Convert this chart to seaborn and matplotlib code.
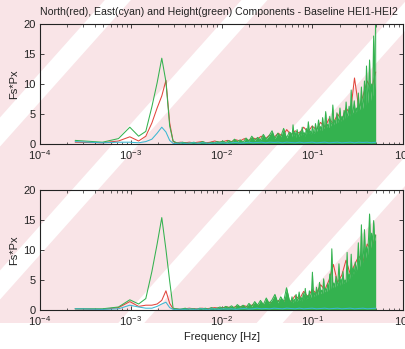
import numpy as np
import pandas as pd
import matplotlib
matplotlib.use("Agg")
import matplotlib.pyplot as plt
import seaborn as sns
from matplotlib.patches import Polygon, Rectangle
from matplotlib.ticker import FixedLocator, LogLocator, NullFormatter, FixedFormatter

# ---------------- data ----------------
title = "North(red), East(cyan) and Height(green) Components - Baseline HEI1-HEI2"
x_label = "Frequency [Hz]"
y_label = "Fs*Px"
x_ticks = [1e-4, 1e-3, 1e-2, 1e-1, 1e0]
x_tick_labels = [r"$10^{-4}$", r"$10^{-3}$", r"$10^{-2}$", r"$10^{-1}$", r"$10^{0}$"]
y_ticks = [0, 5, 10, 15, 20]

nfft = 4096  # samples (fs = 1 Hz)
low_bins = [1, 2, 3, 4, 5, 6, 7, 8, 9, 10, 11, 12]

# ---- top panel ----
top_north_low = [0.3, 0.2, 0.5, 1.2, 0.5, 1.3, 3.5, 6.0, 8.0, 10.6, 3.5, 0.4]
top_east_low = [0.4, 0.2, 0.3, 0.3, 0.2, 0.4, 0.8, 1.8, 2.8, 2.0, 0.6, 0.1]
top_height_low = [0.6, 0.3, 0.9, 2.8, 1.3, 2.1, 6.2, 10.2, 14.3, 10.4, 3.0, 0.5]

top_height_mid = [0.2, 0.1, 0.3, 0.2, 0.1, 0.2, 0.3, 0.1, 0.2, 0.4, 0.2, 0.1, 0.3, 0.2, 0.4, 0.3,
                  0.5, 0.2, 0.6, 0.3, 0.8, 0.4, 0.7, 0.3, 1.0, 0.5, 1.3, 0.6,
                  1.1, 0.7, 1.6, 0.8, 1.4, 2.2, 0.9, 1.8, 1.2, 2.6, 1.0, 2.0]
top_height_hi = [1.8, 1.2, 3.2, 1.4, 2.0, 1.1, 2.4, 1.5, 1.3, 2.1, 1.4, 2.8, 1.6, 1.9, 1.3, 2.6,
                 1.7, 3.7, 1.8, 2.2, 1.6, 3.0, 2.0, 1.8, 3.4, 2.1, 2.6, 4.0, 2.3, 2.9, 2.2, 4.4,
                 2.6, 3.1, 5.4, 2.8, 3.3, 2.7, 4.6, 3.0, 3.6, 6.5, 3.2, 4.0, 3.4, 5.2, 3.6, 4.3,
                 6.0, 3.8, 4.6, 4.0, 5.6, 4.2, 7.0, 4.5, 5.0, 6.3, 4.6, 9.0, 5.0, 5.6, 7.2, 5.1,
                 6.0, 5.4, 8.5, 5.6, 6.4, 9.5, 5.8, 7.0, 10.5, 6.2, 13.0, 6.8, 9.0, 14.0, 7.2, 10.0,
                 8.0, 18.0, 9.0, 22.0]
top_north_rc = [0.2, 0.3, 0.2, 0.3, 0.2, 0.3, 0.4, 0.2, 0.3, 0.5, 0.3, 0.4, 0.6, 0.4, 0.7, 0.5,
                0.9, 0.6, 1.0, 0.8, 1.3, 0.9, 1.5, 1.1, 1.8, 1.3, 2.4, 1.5, 2.2, 1.8, 2.8, 2.0,
                3.0, 2.4, 3.6, 2.8, 4.2, 3.4, 5.0, 4.0, 6.0, 5.0, 11.0, 6.0, 8.0, 10.5, 9.0, 12.0]
top_east_rc = [0.1, 0.2, 0.1, 0.15, 0.2, 0.1, 0.2, 0.15, 0.1, 0.2, 0.15, 0.2, 0.1, 0.2, 0.25, 0.15,
               0.2, 0.3, 0.2, 0.25, 0.3, 0.2, 0.3, 0.25, 0.3, 0.2, 0.3, 0.25, 0.2, 0.3, 0.2, 0.25,
               0.3, 0.2, 0.25, 0.3, 0.2, 0.25, 0.3, 0.2, 0.25, 0.3, 0.2, 0.3, 0.25, 0.3, 0.2, 0.3]

# ---- bottom panel ----
bot_north_low = [0.2, 0.1, 0.4, 1.4, 0.6, 0.8, 0.8, 1.0, 1.6, 3.2, 1.1, 0.2]
bot_east_low = [0.2, 0.1, 0.2, 0.8, 0.5, 0.3, 0.3, 0.6, 1.0, 1.3, 0.4, 0.1]
bot_height_low = [0.2, 0.2, 0.5, 1.7, 1.0, 1.9, 6.4, 11.0, 15.4, 10.1, 4.8, 0.3]

bot_height_mid = [0.2, 0.1, 0.2, 0.3, 0.1, 0.2, 0.2, 0.1, 0.3, 0.2, 0.3, 0.1, 0.4, 0.2, 0.3, 0.5,
                  0.3, 0.6, 0.4, 0.7, 0.3, 0.9, 0.5, 0.8, 0.4, 1.1, 0.6, 1.4,
                  0.8, 1.6, 0.9, 2.0, 1.1, 1.7, 2.6, 1.2, 2.2, 1.4, 3.7, 1.6]
bot_height_hi = [1.4, 2.2, 1.2, 1.8, 1.5, 2.6, 1.4, 1.9, 3.0, 1.6, 2.1, 1.5, 2.8, 1.7, 3.6, 1.8,
                 2.4, 1.9, 3.2, 2.0, 2.6, 6.3, 2.2, 2.9, 2.3, 3.8, 2.5, 3.2, 4.6, 2.7, 3.3, 2.8,
                 5.2, 3.0, 3.6, 3.1, 4.4, 3.3, 6.0, 3.5, 10.2, 3.7, 4.5, 3.8, 5.6, 4.0, 4.8, 7.7,
                 4.1, 5.2, 4.3, 6.4, 4.4, 5.0, 4.6, 9.6, 4.8, 6.0, 5.2, 9.3, 5.6, 7.0, 6.0, 8.0,
                 6.4, 7.6, 11.2, 7.0, 8.4, 14.2, 7.8, 9.4, 13.4, 8.6, 10.5, 9.2, 12.0, 16.0, 10.2, 12.8,
                 11.0, 14.9, 11.5, 12.5]
bot_north_rc = [0.2, 0.1, 0.2, 0.3, 0.2, 0.2, 0.3, 0.2, 0.3, 0.4, 0.3, 0.4, 0.5, 0.3, 0.6, 0.5,
                0.7, 0.5, 0.9, 0.6, 1.0, 0.8, 1.3, 0.9, 1.6, 1.2, 1.9, 1.4, 2.4, 1.8, 3.1, 2.2,
                3.4, 2.8, 4.2, 3.4, 5.0, 7.6, 4.6, 5.8, 8.3, 6.0, 7.5, 9.0, 8.0, 11.0, 10.0, 12.5]
bot_east_rc = [0.1, 0.15, 0.1, 0.2, 0.1, 0.15, 0.2, 0.1, 0.15, 0.2, 0.1, 0.2, 0.15, 0.2, 0.1, 0.2,
               0.25, 0.15, 0.2, 0.3, 0.2, 0.25, 0.2, 0.3, 0.25, 0.2, 0.3, 0.25, 0.2, 0.3, 0.2, 0.25,
               0.3, 0.2, 0.25, 0.3, 0.2, 0.25, 0.3, 0.2, 0.25, 0.3, 0.2, 0.25, 0.3, 0.2, 0.25, 0.3]

# colours
c_north = "#e2453c"
c_east = "#3bb8d2"
c_height = "#34b24f"
c_pink = "#f9e4e7"
c_text = "#222222"
fsize = 8

# ---------------- style ----------------
sns.set_theme(style="ticks")
plt.rcParams["font.family"] = ["Liberation Sans", "DejaVu Sans"]
plt.rcParams["mathtext.default"] = "regular"

W, H = 405, 349
fig = plt.figure(figsize=(W / 100, H / 100), dpi=100)
fig.patch.set_facecolor("white")

# scanned-paper watermark background (pink with white diagonal bands), behind the axes
fig.add_artist(Rectangle((0, 1 - 323 / H), 1, 323 / H, transform=fig.transFigure,
                         facecolor=c_pink, edgecolor="none", zorder=-3))
slope = 1.12
half = 13
for c in [132, 285, 470, 625]:
    y0, y1 = 0, 323
    xa, xb = (c - y0) / slope, (c - y1) / slope
    pts = [((xa - half) / W, 1 - y0 / H), ((xa + half) / W, 1 - y0 / H),
           ((xb + half) / W, 1 - y1 / H), ((xb - half) / W, 1 - y1 / H)]
    fig.add_artist(Polygon(pts, closed=True, transform=fig.transFigure,
                           facecolor="white", edgecolor="none", zorder=-2))

f_low = np.array(low_bins) / nfft


def panel(ax, north_low, east_low, height_low, height_mid, height_hi, north_rc, east_rc):
    f_mid = np.geomspace(3.2e-3, 0.056, len(height_mid))
    f_hi = np.geomspace(0.0583, 0.5, len(height_hi))
    f_rc = np.geomspace(3.2e-3, 0.5, len(north_rc))

    f_g = np.concatenate([f_low, f_mid, f_hi])
    v_g = np.concatenate([height_low, height_mid, height_hi])
    f_r = np.concatenate([f_low, f_rc])
    v_r = np.concatenate([north_low, north_rc])
    v_c = np.concatenate([east_low, east_rc])

    df_r = pd.DataFrame({"f": f_r, "v": v_r})
    df_c = pd.DataFrame({"f": f_r, "v": v_c})
    df_g = pd.DataFrame({"f": f_g, "v": v_g})

    sns.lineplot(data=df_r, x="f", y="v", ax=ax, color=c_north, lw=0.75,
                 estimator=None, sort=False, zorder=2)
    m = df_g["f"] >= 3.2e-3
    ax.fill_between(df_g["f"][m], 0, df_g["v"][m], color=c_height, lw=0, zorder=3)
    sns.lineplot(data=df_g, x="f", y="v", ax=ax, color=c_height, lw=0.75,
                 estimator=None, sort=False, zorder=4)
    sns.lineplot(data=df_c, x="f", y="v", ax=ax, color=c_east, lw=0.75,
                 estimator=None, sort=False, zorder=5)

    ax.set_xscale("log")
    ax.set_xlim(1e-4, 1e0)
    ax.set_ylim(0, 20)
    ax.set_facecolor("none")
    ax.xaxis.set_major_locator(FixedLocator(x_ticks))
    ax.xaxis.set_major_formatter(FixedFormatter(x_tick_labels))
    ax.xaxis.set_minor_locator(LogLocator(base=10, subs=np.arange(2, 10), numticks=20))
    ax.xaxis.set_minor_formatter(NullFormatter())
    ax.set_yticks(y_ticks)
    ax.tick_params(axis="both", which="major", direction="in", length=3, width=0.6,
                   top=True, right=True, labelsize=fsize, pad=3, colors=c_text)
    ax.tick_params(axis="x", which="minor", direction="in", length=1.8, width=0.5,
                   top=True, bottom=True)
    for s in ax.spines.values():
        s.set_linewidth(0.8)
        s.set_color(c_text)
        s.set_zorder(6)
    ax.set_ylabel(y_label, fontsize=fsize, labelpad=3, color=c_text)
    ax.set_xlabel("")


ax1 = fig.add_axes([40 / W, 1 - 144 / H, 363 / W, 120 / H])
ax2 = fig.add_axes([40 / W, 1 - 310 / H, 363 / W, 120 / H])
panel(ax1, top_north_low, top_east_low, top_height_low, top_height_mid, top_height_hi,
      top_north_rc, top_east_rc)
panel(ax2, bot_north_low, bot_east_low, bot_height_low, bot_height_mid, bot_height_hi,
      bot_north_rc, bot_east_rc)
ax2.set_xlabel(x_label, fontsize=fsize, labelpad=3, color=c_text)

fig.text(40 / W, 1 - 12 / H, title, ha="left", va="center", fontsize=7.6, color=c_text)

fig.savefig("out.png", dpi=100, facecolor=fig.get_facecolor())
